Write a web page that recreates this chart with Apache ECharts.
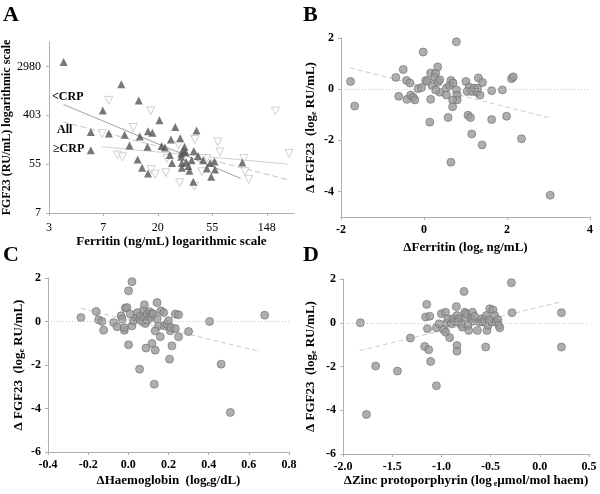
<!DOCTYPE html>
<html><head><meta charset="utf-8">
<script src="https://cdn.jsdelivr.net/npm/echarts@6/dist/echarts.min.js"></script>
<style>html,body{margin:0;padding:0;background:#fff}#c{width:600px;height:494px}</style>
</head><body><div id="c"></div>
<script>
// Panel A (ln scale values): filled up-triangles and hollow down-triangles
const aFilled = [[1.27,8.18],[2.33,7.27],[2.65,6.61],[1.99,6.20],[3.03,5.80],[3.32,5.52],[3.71,5.38],[1.77,5.32],[2.10,5.25],[2.39,5.20],[2.82,5.35],[2.90,5.28],[2.67,5.13],[3.24,5.01],[3.41,5.06],[2.48,4.76],[2.81,4.71],[3.07,4.74],[3.13,4.68],[3.49,4.71],[1.77,4.57],[3.47,4.54],[3.66,4.54],[3.43,4.44],[3.51,4.49],[3.22,4.37],[3.74,4.33],[2.63,4.19],[3.83,4.16],[3.62,4.16],[3.26,4.05],[3.44,4.05],[3.52,4.09],[3.96,4.05],[4.04,4.11],[4.55,4.07],[3.56,3.92],[2.71,3.85],[3.44,3.85],[3.90,3.82],[3.58,3.73],[4.05,3.78],[2.82,3.62],[3.98,3.48],[3.65,3.28],[3.43,4.30]];
const aHollow = [[2.10,6.61],[2.87,6.18],[5.16,6.18],[2.55,5.50],[1.98,5.25],[3.68,5.01],[4.10,4.91],[4.14,4.50],[2.26,4.37],[2.35,4.30],[5.41,4.44],[2.88,3.78],[2.95,3.59],[3.15,3.65],[3.40,3.24],[3.81,3.69],[4.58,4.23],[4.60,3.69],[4.67,3.38],[3.67,3.10],[3.90,4.23],[3.17,4.23],[3.38,4.78],[3.81,4.23]];
const aLineLow = [[1.27,6.44],[4.52,3.42]];
const aLineAll = [[1.26,5.73],[5.41,3.35]];
const aLineHigh = [[1.98,4.71],[5.38,4.00]];
const aXTicks = [1,2,3,4,5];
const aXLabels = ['3','7','20','55','148'];
const aYTicks = [2,4,6,8];
const aYLabels = ['7','55','403','2980'];

// Panel B: delta ferritin vs delta FGF23
const bPoints = [[-1.77,0.30],[-1.67,-0.66],[-0.02,1.45],[0.78,1.85],[-0.50,0.77],[-0.68,0.46],[-0.61,-0.28],[-0.42,0.34],[-0.34,0.24],[-0.41,-0.40],[-0.32,-0.23],[-0.26,-0.32],[-0.22,-0.42],[-0.14,0.02],[-0.06,0.06],[0.04,0.34],[0.08,0.30],[0.16,0.63],[0.28,0.63],[0.33,0.87],[0.26,0.46],[0.20,0.13],[0.34,0.28],[0.38,0.37],[0.38,-0.12],[0.28,-0.03],[0.16,-0.40],[0.14,-1.29],[0.54,0.04],[0.65,0.34],[0.61,0.13],[0.70,0.24],[0.78,-0.03],[0.80,-0.23],[0.80,-0.42],[0.69,-0.42],[0.69,-0.69],[0.54,-0.23],[0.58,-1.11],[0.65,-2.86],[1.01,0.30],[1.09,0.08],[1.04,-0.09],[1.15,-0.09],[1.21,0.04],[1.29,0.04],[1.27,-0.12],[1.35,-0.23],[1.31,0.44],[1.41,0.26],[1.06,-1.02],[1.12,-1.11],[1.15,-1.75],[1.40,-2.18],[1.63,-0.06],[1.89,-0.03],[1.63,-1.19],[1.99,-1.06],[2.11,0.41],[2.15,0.48],[2.35,-1.94],[3.04,-4.15]];
const bLine = [[-1.78,0.83],[3.0,-1.11]];

// Panel C: delta haemoglobin vs delta FGF23
const cPoints = [[-0.236,0.18],[-0.16,0.46],[-0.148,0.08],[-0.131,0.0],[-0.123,-0.40],[-0.073,-0.05],[-0.056,-0.24],[-0.036,0.26],[-0.031,0.11],[-0.02,-0.40],[-0.02,-0.28],[-0.015,0.62],[-0.007,0.64],[0.001,1.41],[0.018,1.83],[0.001,-1.07],[0.01,0.34],[0.018,-0.2],[0.026,0.03],[0.04,0.18],[0.046,0.41],[0.056,0.11],[0.06,0.26],[0.068,0.0],[0.076,0.52],[0.08,0.18],[0.085,-0.09],[0.093,0.34],[0.096,0.06],[0.106,0.45],[0.113,0.18],[0.118,0.37],[0.08,0.77],[0.143,0.87],[0.123,0.34],[0.143,0.11],[0.151,-0.2],[0.134,-0.43],[0.118,-1.01],[0.134,-1.32],[0.088,-1.22],[0.056,-2.19],[0.129,-2.88],[0.162,0.49],[0.176,0.41],[0.159,-0.70],[0.18,-0.2],[0.192,-0.12],[0.2,0.03],[0.209,-0.43],[0.212,-0.28],[0.205,-1.73],[0.217,-1.12],[0.234,-0.32],[0.234,0.34],[0.25,0.31],[0.25,-0.70],[0.30,-0.46],[0.405,0.0],[0.462,-1.96],[0.508,-4.18],[0.679,0.29]];
const cLine = [[-0.236,0.60],[0.657,-1.38]];

// Panel D: delta zinc protoporphyrin vs delta FGF23
const dPoints = [[-1.823,0.0],[-1.668,-1.98],[-1.762,-4.19],[-1.447,-2.21],[-1.315,-0.70],[-1.170,-1.08],[-1.129,-1.23],[-1.109,-1.77],[-1.149,0.84],[-1.160,0.26],[-1.119,0.30],[-1.142,-0.27],[-1.051,-2.88],[-1.051,-0.23],[-1.024,-0.05],[-1.0,0.41],[-0.959,0.48],[-0.977,-0.32],[-0.957,-0.43],[-0.949,-0.02],[-0.933,0.18],[-0.916,-0.68],[-0.898,-0.05],[-0.882,0.18],[-0.865,0.06],[-0.848,0.74],[-0.842,0.33],[-0.821,0.18],[-0.832,0.03],[-0.842,-1.04],[-0.842,-1.30],[-0.797,-0.08],[-0.787,-0.20],[-0.763,0.48],[-0.753,0.26],[-0.746,0.41],[-0.770,1.43],[-0.730,-0.12],[-0.722,-0.35],[-0.695,0.18],[-0.685,0.48],[-0.679,0.07],[-0.662,0.29],[-0.634,-0.35],[-0.611,0.03],[-0.593,0.18],[-0.583,0.03],[-0.560,0.10],[-0.543,0.33],[-0.537,-0.35],[-0.550,-1.11],[-0.526,-0.12],[-0.509,0.64],[-0.492,0.03],[-0.476,0.59],[-0.458,0.33],[-0.441,0.03],[-0.425,0.14],[-0.415,-0.12],[-0.407,-0.23],[-0.516,0.14],[-0.289,1.83],[-0.282,0.46],[0.22,0.46],[0.22,-1.11]];
const dLine = [[-1.83,-1.27],[0.2,0.94]];

const SERIF = '"Liberation Serif", "Times New Roman", serif';
const axisGray = '#b0b0b0';
const rich = {
  a: {fontFamily: SERIF, fontWeight: 'bold', fontSize: 13, color: '#000', lineHeight: 15},
  s: {fontFamily: SERIF, fontWeight: 'bold', fontSize: 8, color: '#000', lineHeight: 8, verticalAlign: 'bottom'}
};
function fmt1(v){ return Math.abs(v) < 1e-9 ? '0.0' : v.toFixed(1); }
const boldLabel = {fontFamily: SERIF, fontWeight: 'bold', fontSize: 12, color: '#000', margin: 7};
function xAx(grid, min, max, interval, fmt, name, gap, extra) {
  return Object.assign({
    type: 'value', gridIndex: grid, min: min, max: max, interval: interval,
    axisLine: {onZero: false, lineStyle: {color: axisGray, width: 1}},
    axisTick: {show: true, length: 3, lineStyle: {color: axisGray}},
    splitLine: {show: false},
    axisLabel: Object.assign({}, boldLabel, {formatter: fmt}),
    name: name, nameLocation: 'middle', nameGap: gap,
    nameTextStyle: {rich: rich, fontFamily: SERIF, fontWeight: 'bold', fontSize: 13}
  }, extra || {});
}
function yAx(grid, min, max, interval, name, gap, extra) {
  return Object.assign({
    type: 'value', gridIndex: grid, min: min, max: max, interval: interval,
    axisLine: {onZero: false, lineStyle: {color: axisGray, width: 1}},
    axisTick: {show: true, length: 3, lineStyle: {color: axisGray}},
    splitLine: {show: false},
    axisLabel: Object.assign({}, boldLabel),
    name: name, nameLocation: 'middle', nameGap: gap, nameRotate: 90,
    nameTextStyle: {rich: rich, fontFamily: SERIF, fontWeight: 'bold', fontSize: 13}
  }, extra || {});
}
const circleStyle = {color: '#9a9a9a', borderColor: '#6e6e6e', borderWidth: 0.8};
const dashLine = {color: '#cccccc', width: 1, type: [5, 3]};
const zeroMark = {silent: true, symbol: 'none', label: {show: false}, lineStyle: {color: '#c8c8c8', type: [1, 2], width: 1}, data: [{yAxis: 0}]};
const fgfName = '{a|Δ FGF23  (log}{s|e}{a| RU/mL)}';

const chart = echarts.init(document.getElementById('c'), null, {renderer: 'canvas'});
chart.setOption({
  animation: false,
  backgroundColor: '#fff',
  grid: [
    {left: 43, top: 42, width: 251, height: 171},
    {left: 341, top: 38, width: 249, height: 179},
    {left: 48, top: 278, width: 241, height: 174},
    {left: 343, top: 279, width: 246, height: 175}
  ],
  xAxis: [
    xAx(0, 1, 5.5, 1, null, 'Ferritin (ng/mL) logarithmic scale', 21, {
      axisLabel: {fontFamily: SERIF, fontSize: 12, color: '#000', margin: 9, customValues: aXTicks,
        formatter: v => aXLabels[aXTicks.indexOf(v)]},
      axisTick: {show: true, length: 3, lineStyle: {color: axisGray}, customValues: aXTicks},
      nameTextStyle: {fontFamily: SERIF, fontWeight: 'bold', fontSize: 13, color: '#000'}
    }),
    xAx(1, -2, 4, 2, v => String(v), '{a|ΔFerritin (log}{s|e}{a| ng/mL)}', 23),
    xAx(2, -0.4, 0.8, 0.2, fmt1, '{a|ΔHaemoglobin  (log}{s|e}{a|g/dL)}', 21),
    xAx(3, -2, 0.5, 0.5, fmt1, '{a|ΔZinc protoporphyrin (log}{s| e}{a|µmol/mol haem)}', 16)
  ],
  yAxis: [
    yAx(0, 2, 9, 2, 'FGF23 (RU/mL) logarithmic scale', 31, {
      axisLabel: {fontFamily: SERIF, fontSize: 12, color: '#000', margin: 8, customValues: aYTicks,
        formatter: v => aYLabels[aYTicks.indexOf(v)]},
      axisTick: {show: true, length: 3, lineStyle: {color: axisGray}, customValues: aYTicks},
      nameTextStyle: {fontFamily: SERIF, fontWeight: 'bold', fontSize: 12, color: '#000'}
    }),
    yAx(1, -5, 2, 1, fgfName, 23, {
      axisLabel: Object.assign({}, boldLabel, {customValues: [-4,-2,0,2]}),
      axisTick: {show: true, length: 3, lineStyle: {color: axisGray}, customValues: [-4,-2,0,2]}
    }),
    yAx(2, -6, 2, 2, fgfName, 22),
    yAx(3, -6, 2, 2, fgfName, 25)
  ],
  series: [
    {type: 'line', xAxisIndex: 0, yAxisIndex: 0, data: aLineLow, symbol: 'none', lineStyle: {color: '#a0a0a0', width: 1}, z: 1},
    {type: 'line', xAxisIndex: 0, yAxisIndex: 0, data: aLineAll, symbol: 'none', lineStyle: {color: '#c4c4c4', width: 1, type: [6, 3]}, z: 1},
    {type: 'line', xAxisIndex: 0, yAxisIndex: 0, data: aLineHigh, symbol: 'none', lineStyle: {color: '#d0d0d0', width: 1}, z: 1},
    {type: 'scatter', xAxisIndex: 0, yAxisIndex: 0, data: aHollow, symbol: 'triangle', symbolRotate: 180, symbolSize: 8,
      itemStyle: {color: '#fff', borderColor: '#c4c4c4', borderWidth: 1}, z: 2},
    {type: 'scatter', xAxisIndex: 0, yAxisIndex: 0, data: aFilled, symbol: 'triangle', symbolSize: 8,
      itemStyle: {color: '#555'}, z: 3},

    {type: 'line', xAxisIndex: 1, yAxisIndex: 1, data: bLine, symbol: 'none', lineStyle: dashLine, markLine: zeroMark, z: 1},
    {type: 'scatter', xAxisIndex: 1, yAxisIndex: 1, data: bPoints, symbol: 'circle', symbolSize: 8, itemStyle: circleStyle, z: 3},

    {type: 'line', xAxisIndex: 2, yAxisIndex: 2, data: cLine, symbol: 'none', lineStyle: dashLine, markLine: zeroMark, z: 1},
    {type: 'scatter', xAxisIndex: 2, yAxisIndex: 2, data: cPoints, symbol: 'circle', symbolSize: 8, itemStyle: circleStyle, z: 3},

    {type: 'line', xAxisIndex: 3, yAxisIndex: 3, data: dLine, symbol: 'none', lineStyle: dashLine, markLine: zeroMark, z: 1},
    {type: 'scatter', xAxisIndex: 3, yAxisIndex: 3, data: dPoints, symbol: 'circle', symbolSize: 8, itemStyle: circleStyle, z: 3}
  ],
  graphic: [
    {type: 'text', left: 3, top: 4, style: {text: 'A', font: 'bold 22px ' + SERIF, fill: '#000'}},
    {type: 'text', left: 303, top: 4, style: {text: 'B', font: 'bold 22px ' + SERIF, fill: '#000'}},
    {type: 'text', left: 3, top: 244, style: {text: 'C', font: 'bold 22px ' + SERIF, fill: '#000'}},
    {type: 'text', left: 303, top: 244, style: {text: 'D', font: 'bold 22px ' + SERIF, fill: '#000'}},
    {type: 'text', left: 52, top: 91, style: {text: '<CRP', font: 'bold 12px ' + SERIF, fill: '#000'}},
    {type: 'text', left: 57, top: 124, style: {text: 'All', font: 'bold 12px ' + SERIF, fill: '#000'}},
    {type: 'text', left: 53, top: 143, style: {text: '≥CRP', font: 'bold 12px ' + SERIF, fill: '#000'}}
  ]
});
</script>
</body></html>
